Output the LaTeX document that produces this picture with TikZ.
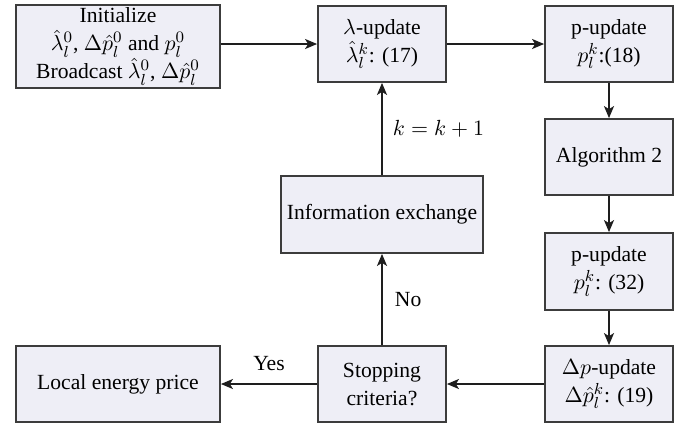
\documentclass[tikz,border=0pt]{standalone}
\usepackage{fontspec}
\setmainfont{Liberation Serif}
\newfontfamily\tms{Liberation Serif}
\usetikzlibrary{arrows.meta}
\definecolor{boxfill}{RGB}{238,238,246}
\definecolor{boxline}{RGB}{60,60,60}
\definecolor{arrcol}{RGB}{30,30,30}
\begin{document}
\begin{tikzpicture}[x=0.5pt,y=-0.5pt,
  blk/.style={draw=boxline,fill=boxfill,line width=0.9pt,align=center,inner sep=0pt,
    font=\tms\fontsize{10.8}{14}\selectfont},
  conn/.style={draw=arrcol,line width=0.9pt,-{Stealth[length=6pt,width=5pt,inset=1.5pt]}},
  lbl/.style={font=\tms\fontsize{10.8}{13}\selectfont,inner sep=0pt}]
\useasboundingbox (0,0) rectangle (690,425);
\node[blk,minimum width=102pt,minimum height=41.5pt] (init) at (118,46.5)
  {Initialize\\ $\hat\lambda_l^0$, $\Delta\hat p_l^0$ and $p_l^0$\\ Broadcast $\hat\lambda_l^0$, $\Delta\hat p_l^0$};
\node[blk,minimum width=64pt,minimum height=38pt] (lam) at (382,44)
  {$\lambda$-update\\ $\hat\lambda_l^k$: (17)};
\node[blk,minimum width=64pt,minimum height=38pt] (p18) at (609,44)
  {p-update\\ $p_l^k$:(18)};
\node[blk,minimum width=64pt,minimum height=38pt] (alg) at (609,157)
  {Algorithm 2};
\node[blk,minimum width=64pt,minimum height=38.5pt] (p32) at (609,271.5)
  {p-update\\ $p_l^k$: (32)};
\node[blk,minimum width=64pt,minimum height=38pt] (dp) at (609,384)
  {$\Delta p$-update\\ $\Delta\hat p_l^k$: (19)};
\node[blk,minimum width=64pt,minimum height=38pt] (stop) at (382,384)
  {Stopping\\ criteria?};
\node[blk,minimum width=102pt,minimum height=38pt] (local) at (118,384)
  {Local energy price};
\node[blk,minimum width=101pt,minimum height=38.5pt] (info) at (382,214.5)
  {Information exchange};
\draw[conn] (init.east |- lam.west) -- (lam.west);
\draw[conn] (lam) -- (p18);
\draw[conn] (p18) -- (alg);
\draw[conn] (alg) -- (p32);
\draw[conn] (p32) -- (dp);
\draw[conn] (dp) -- (stop);
\draw[conn] (stop) -- node[lbl,above=6pt] {Yes} (local);
\draw[conn] (stop) -- node[lbl,right=6pt,pos=0.5] {No} (info);
\draw[conn] (info) -- node[lbl,right=5pt,pos=0.5] {$k=k+1$} (lam);
\end{tikzpicture}
\end{document}
